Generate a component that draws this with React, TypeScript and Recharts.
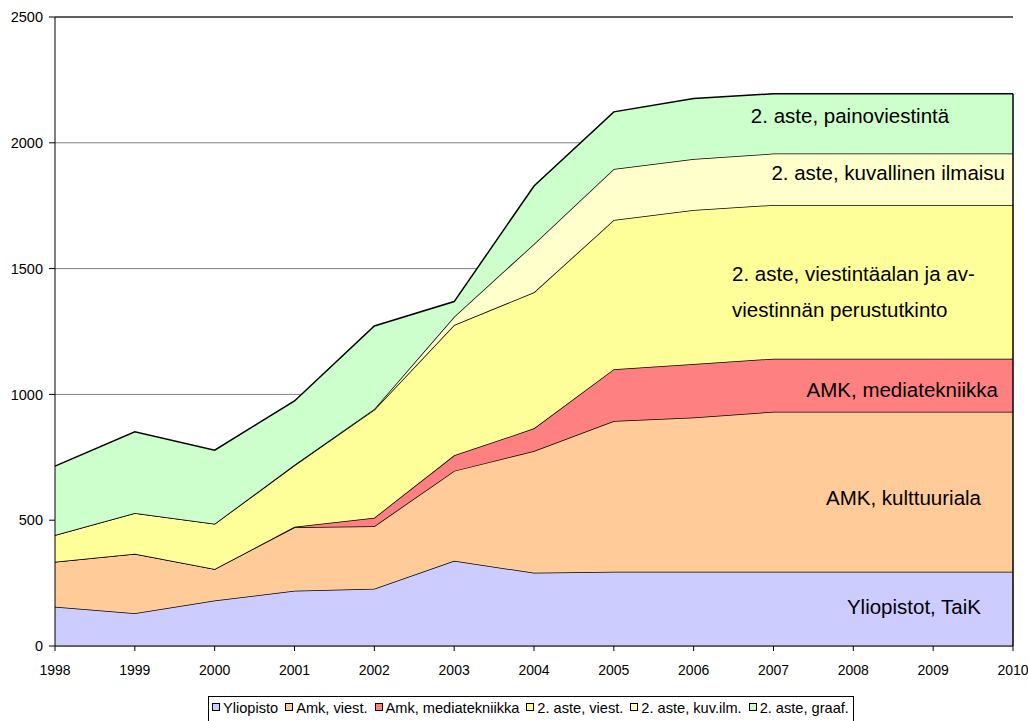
import React from 'react';
import { AreaChart, Area, XAxis, YAxis, CartesianGrid, ReferenceLine } from 'recharts';

const years = [1998, 1999, 2000, 2001, 2002, 2003, 2004, 2005, 2006, 2007, 2008, 2009, 2010];
const yliopisto = [156, 130, 181, 220, 228, 339, 291, 295, 295, 295, 295, 295, 295];
const amkViest = [179, 237, 125, 252, 248, 357, 484, 599, 613, 636, 636, 636, 636];
const amkMedia = [0, 0, 0, 2, 34, 62, 90, 206, 213, 211, 211, 211, 211];
const asteViest = [106, 162, 180, 244, 429, 518, 541, 593, 612, 611, 611, 611, 611];
const asteKuv = [0, 0, 0, 2, 3, 33, 192, 203, 203, 204, 204, 204, 204];
const asteGraaf = [274, 322, 292, 254, 330, 60, 230, 227, 240, 238, 238, 238, 238];
const yTicks = [0, 500, 1000, 1500, 2000, 2500];

const seriesNames = ['Yliopisto', 'Amk, viest.', 'Amk, mediatekniikka', '2. aste, viest.', '2. aste, kuv.ilm.', '2. aste, graaf.'];
const seriesKeys = ['ylio', 'amkViest', 'amkMedia', 'asteViest', 'asteKuv', 'asteGraaf'];
const seriesColors = ['#CCCCFF', '#FFCC99', '#FF8080', '#FFFF99', '#FFFFCC', '#CCFFCC'];
const seriesValues = [yliopisto, amkViest, amkMedia, asteViest, asteKuv, asteGraaf];

const data = years.map((year, i) => {
  const row: Record<string, number> = { year };
  seriesKeys.forEach((k, s) => {
    row[k] = seriesValues[s][i];
  });
  return row;
});

const lastIndex = years.length - 1;
const lastTotal = seriesValues.reduce((sum, arr) => sum + arr[lastIndex], 0);

const FONT = '"Liberation Sans", Arial, sans-serif';

const LegendBox = () => (
  <div
    style={{
      position: 'absolute',
      left: 208,
      top: 696,
      border: '1px solid #000',
      background: '#fff',
      padding: '3px 4px 6px 3px',
      fontFamily: FONT,
      fontSize: 14.6,
      lineHeight: '17px',
      color: '#000',
      whiteSpace: 'nowrap',
      display: 'flex',
      alignItems: 'center',
    }}
  >
    {seriesNames.map((name, i) => (
      <span key={name} style={{ display: 'inline-flex', alignItems: 'center', marginRight: i < seriesNames.length - 1 ? 7 : 0 }}>
        <span
          style={{
            display: 'inline-block',
            width: 6,
            height: 6,
            border: '1px solid #000',
            background: seriesColors[i],
            marginRight: 3,
            marginTop: -3,
          }}
        />
        <span>{name}</span>
      </span>
    ))}
  </div>
);

const labelStyle: React.CSSProperties = { fontFamily: FONT, fontSize: 20.5, fill: '#000' };

export default function App() {
  return (
    <div style={{ position: 'absolute', left: 0, top: 0, width: 1028, height: 721, background: '#fff', overflow: 'hidden' }}>
      <AreaChart width={1028} height={721} data={data} margin={{ top: 17, right: 15, left: 0, bottom: 45 }}>
        <CartesianGrid horizontal={true} vertical={false} stroke="#808080" strokeWidth={1} />
        <XAxis
          dataKey="year"
          type="number"
          domain={[1998, 2010]}
          ticks={years}
          interval={0}
          height={30}
          axisLine={{ stroke: '#000' }}
          tickLine={{ stroke: '#000' }}
          tickSize={5}
          tickMargin={14}
          tick={{ fill: '#000', fontSize: 14, fontFamily: FONT }}
        />
        <YAxis
          type="number"
          domain={[0, 2500]}
          ticks={yTicks}
          interval={0}
          width={55}
          axisLine={{ stroke: '#000' }}
          tickLine={{ stroke: '#000' }}
          tickSize={6}
          tickMargin={6}
          tick={{ fill: '#000', fontSize: 14.5, fontFamily: FONT }}
        />
        <ReferenceLine y={2500} stroke="#000" strokeWidth={1} />
        {seriesKeys.map((k, s) => (
          <Area
            key={k}
            type="linear"
            dataKey={k}
            name={seriesNames[s]}
            stackId="1"
            stroke="#000"
            strokeWidth={1.5}
            fill={seriesColors[s]}
            fillOpacity={1}
            dot={false}
            activeDot={false}
            isAnimationActive={false}
          />
        ))}
        <ReferenceLine
          segment={[{ x: years[lastIndex], y: 0 }, { x: years[lastIndex], y: lastTotal }]}
          stroke="#000"
          strokeWidth={1.5}
        />
      </AreaChart>
      <svg width={1028} height={721} style={{ position: 'absolute', left: 0, top: 0, pointerEvents: 'none' }}>
        <text x={850} y={115} textAnchor="middle" dominantBaseline="central" style={labelStyle}>2. aste, painoviestintä</text>
        <text x={1005} y={172} textAnchor="end" dominantBaseline="central" style={labelStyle}>2. aste, kuvallinen ilmaisu</text>
        <text x={732} y={273} textAnchor="start" dominantBaseline="central" style={labelStyle}>2. aste, viestintäalan ja av-</text>
        <text x={732} y={309} textAnchor="start" dominantBaseline="central" style={labelStyle}>viestinnän perustutkinto</text>
        <text x={998} y={389} textAnchor="end" dominantBaseline="central" style={labelStyle}>AMK, mediatekniikka</text>
        <text x={981} y={497} textAnchor="end" dominantBaseline="central" style={labelStyle}>AMK, kulttuuriala</text>
        <text x={981} y={606} textAnchor="end" dominantBaseline="central" style={labelStyle}>Yliopistot, TaiK</text>
      </svg>
      <LegendBox />
    </div>
  );
}
